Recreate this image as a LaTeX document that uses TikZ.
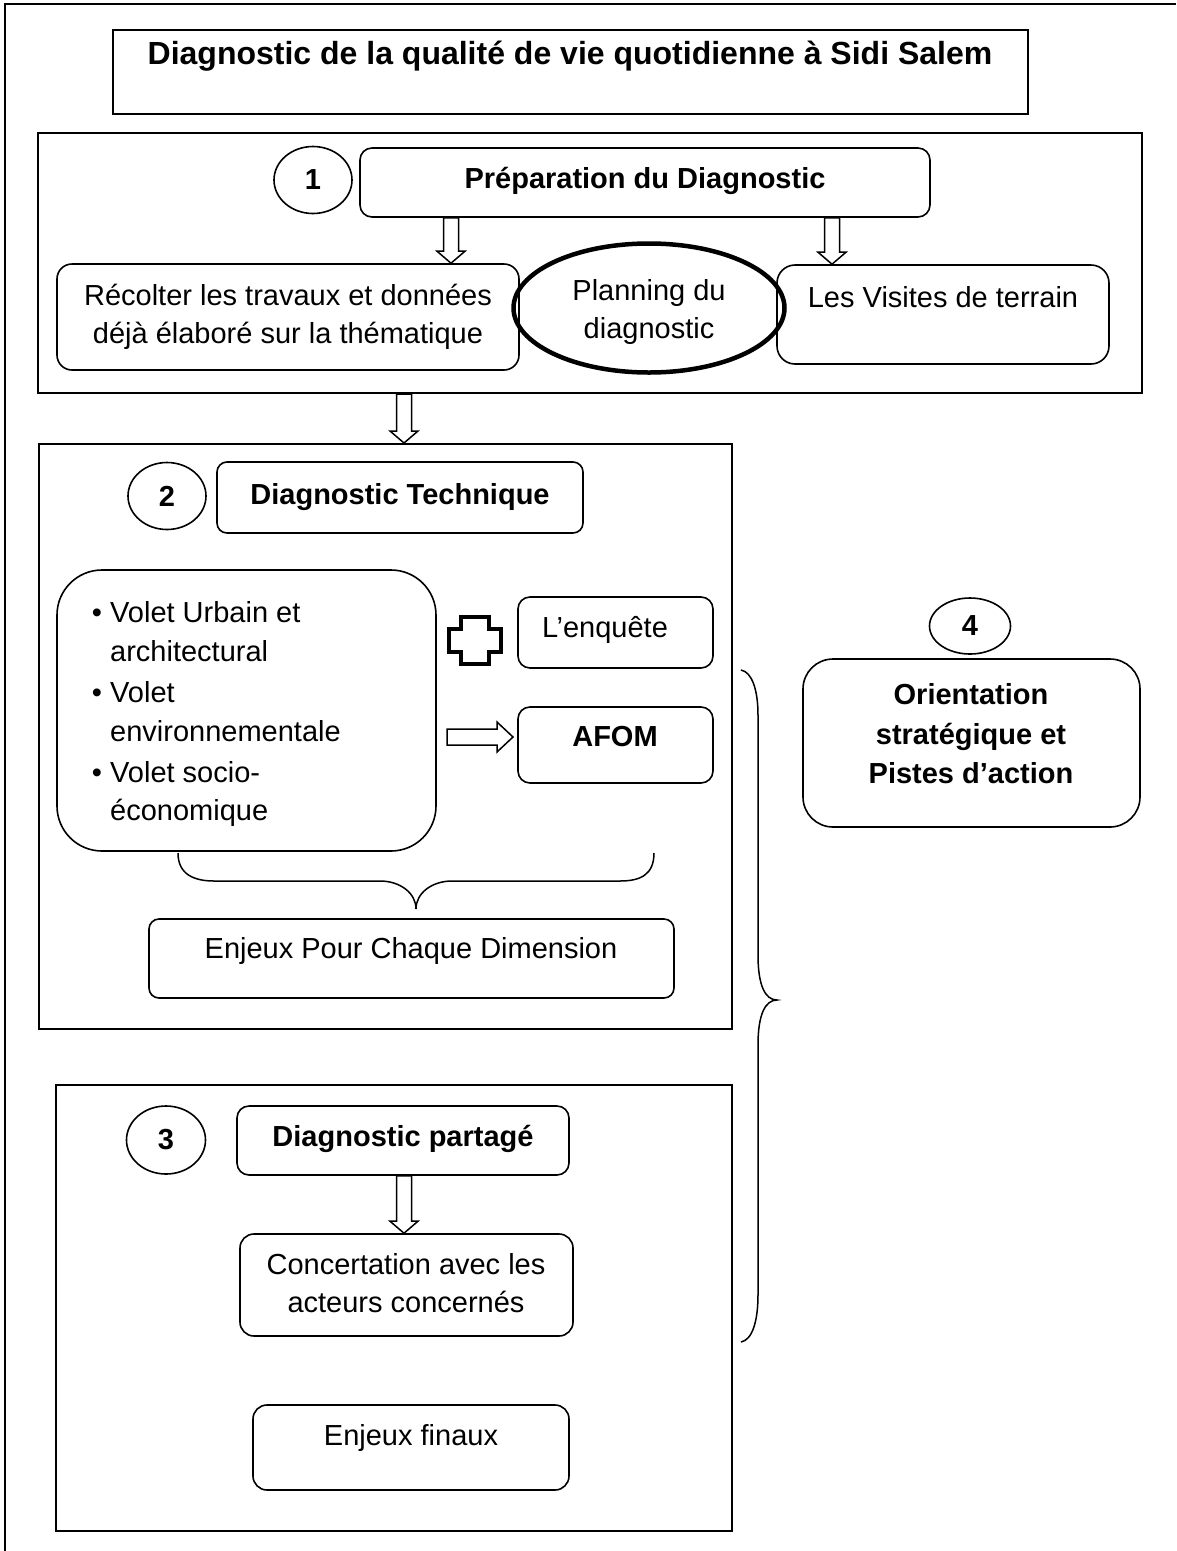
\documentclass[tikz,border=0pt]{standalone}
\usepackage{fontspec}
\setmainfont{Liberation Sans}
\usetikzlibrary{shapes.geometric,calc,fit}
\newcommand\vblock[2]{\draw[blockarrow] let \p1=(#1), \p2=(#2) in
  (\x1-7.5pt,\y1) -- (\x1-7.5pt,\y2+12pt) -- (\x1-14pt,\y2+12pt) -- (\x1,\y2)
  -- (\x1+14pt,\y2+12pt) -- (\x1+7.5pt,\y2+12pt) -- (\x1+7.5pt,\y1) -- cycle;}
\newcommand\hblock[2]{\draw[blockarrow] let \p1=(#1), \p2=(#2) in
  (\x1,\y1+8pt) -- (\x2-16pt,\y1+8pt) -- (\x2-16pt,\y1+15pt) -- (\x2,\y1)
  -- (\x2-16pt,\y1-15pt) -- (\x2-16pt,\y1-8pt) -- (\x1,\y1-8pt) -- cycle;}
\begin{document}
\begin{tikzpicture}[x=1pt,y=-1pt,
  frame/.style={draw, line width=2pt, inner sep=0pt},
  rbox/.style={draw, line width=1.6pt, rounded corners=12pt, inner sep=0pt},
  numc/.style={draw, ellipse, line width=1.6pt, inner sep=0pt, font=\bfseries\fontsize{29}{38}\selectfont},
  txt/.style={inner sep=0pt, anchor=base, font=\fontsize{29}{38}\selectfont},
  btxt/.style={inner sep=0pt, anchor=base, font=\bfseries\fontsize{29}{38}\selectfont},
  blockarrow/.style={draw, fill=white, line width=1.5pt, line join=miter},
  bracel/.style={draw, line width=1.5pt}
]
\useasboundingbox (0,0) rectangle (1176,1551);
% outer frame (top and left sides)
\draw[line width=2pt] (5,1551) -- (5,4) -- (1176,4);

% title
\node[frame, fit={(113,30) (1028,114)}] (title) {};
\node[inner sep=0pt, anchor=base, font=\bfseries\fontsize{32}{38}\selectfont] (titletxt) at (570,64) {Diagnostic de la qualité de vie quotidienne à Sidi Salem};

% ---- block 1
\node[frame, fit={(38,133) (1142,393)}] (b1) {};
\node[numc, minimum width=78pt, minimum height=67pt] (c1) at (313,180) {1};
\node[rbox, fit={(360,148) (930,217)}] (prep) {};
\node[btxt] (preptxt) at (645,188) {Préparation du Diagnostic};
\node[rbox, rounded corners=15pt, fit={(57,264) (519,370)}] (recolt) {};
\node[txt] (recolt1) at (288,305) {Récolter les travaux et données};
\node[txt] (recolt2) at (288,343) {déjà élaboré sur la thématique};
\node[rbox, rounded corners=18pt, fit={(777,265) (1109,364)}] (visites) {};
\node[txt] (visitestxt) at (943,307) {Les Visites de terrain};
\node[draw, ellipse, line width=4.5pt, minimum width=271pt, minimum height=129pt, inner sep=0pt] (plan) at (649,308) {};
\node[txt] (plan1) at (649,300) {Planning du};
\node[txt] (plan2) at (649,338) {diagnostic};
\path (451,0) coordinate (xa) (832,0) coordinate (xb) (404,0) coordinate (xc);
\vblock{prep.south -| xa}{recolt.north -| xa}
\vblock{prep.south -| xb}{visites.north -| xb}

% ---- block 2
\node[frame, fit={(39,444) (732,1029)}] (b2) {};
\vblock{b1.south -| xc}{b2.north -| xc}
\node[numc, minimum width=78pt, minimum height=67pt] (c2) at (167,496) {2};
\node[rbox, rounded corners=10pt, fit={(217,462) (583,533)}] (dtech) {};
\node[btxt] (dtechtxt) at (400,504) {Diagnostic Technique};
\node[rbox, rounded corners=45pt, fit={(57,570) (436,851)}] (volets) {};
\node[txt] (bu1) at (97,622) {•};
\node[txt, anchor=base west] (v1) at (110,622) {Volet Urbain et};
\node[txt, anchor=base west] (v2) at (110,661) {architectural};
\node[txt] (bu2) at (97,702) {•};
\node[txt, anchor=base west] (v3) at (110,702) {Volet};
\node[txt, anchor=base west] (v4) at (110,741) {environnementale};
\node[txt] (bu3) at (97,782) {•};
\node[txt, anchor=base west] (v5) at (110,782) {Volet socio-};
\node[txt, anchor=base west] (v6) at (110,820) {économique};
% plus sign
\draw[line width=4.5pt, line join=miter] (461,617) -- (489,617) -- (489,629) -- (501,629) -- (501,652) -- (489,652) -- (489,664) -- (461,664) -- (461,652) -- (449,652) -- (449,629) -- (461,629) -- cycle;
\node[rbox, fit={(518,597) (713,668)}] (enq) {};
\node[txt] (enqtxt) at (605,637) {L’enquête};
\node[rbox, fit={(518,707) (713,783)}] (afom) {};
\node[btxt] (afomtxt) at (615,746) {AFOM};
\coordinate (hs) at (447,737);
\coordinate (he) at (513,737);
\hblock{hs}{he}
% horizontal brace
\draw[bracel] (178,853) .. controls (178,875) and (195,881) .. (214,881) -- (380,881)
  .. controls (400,881) and (416,893) .. (416,909)
  .. controls (416,893) and (432,881) .. (452,881) -- (620,881)
  .. controls (640,881) and (654,875) .. (654,853);
\node[rbox, rounded corners=10pt, fit={(149,919) (674,998)}] (enj1) {};
\node[txt] (enj1txt) at (411,958) {Enjeux Pour Chaque Dimension};

% ---- block 3
\node[frame, fit={(56,1085) (732,1531)}] (b3) {};
\node[numc, minimum width=79pt, minimum height=68pt] (c3) at (166,1140) {3};
\node[rbox, fit={(237,1106) (569,1175)}] (dpart) {};
\node[btxt] (dparttxt) at (403,1146) {Diagnostic partagé};
\node[rbox, rounded corners=14pt, fit={(240,1234) (573,1336)}] (conc) {};
\node[txt] (conc1) at (406,1274) {Concertation avec les};
\node[txt] (conc2) at (406,1312) {acteurs concernés};
\vblock{dpart.south -| xc}{conc.north -| xc}
\node[rbox, rounded corners=14pt, fit={(253,1405) (569,1490)}] (enjf) {};
\node[txt] (enjftxt) at (411,1445) {Enjeux finaux};

% ---- vertical brace
\draw[bracel] (741,670) .. controls (752,672) and (758,690) .. (758,715) -- (758,955)
  .. controls (758,985) and (765,1000) .. (777,1000)
  .. controls (765,1000) and (758,1015) .. (758,1045) -- (758,1295)
  .. controls (758,1322) and (752,1340) .. (741,1342);

% ---- block 4
\node[numc, minimum width=81pt, minimum height=56pt] (c4) at (970,626) {4};
\node[rbox, rounded corners=30pt, fit={(803,659) (1140,827)}] (orient) {};
\node[btxt] (or1) at (971,704) {Orientation};
\node[btxt] (or2) at (971,744) {stratégique et};
\node[btxt] (or3) at (971,783) {Pistes d’action};
\end{tikzpicture}
\end{document}
